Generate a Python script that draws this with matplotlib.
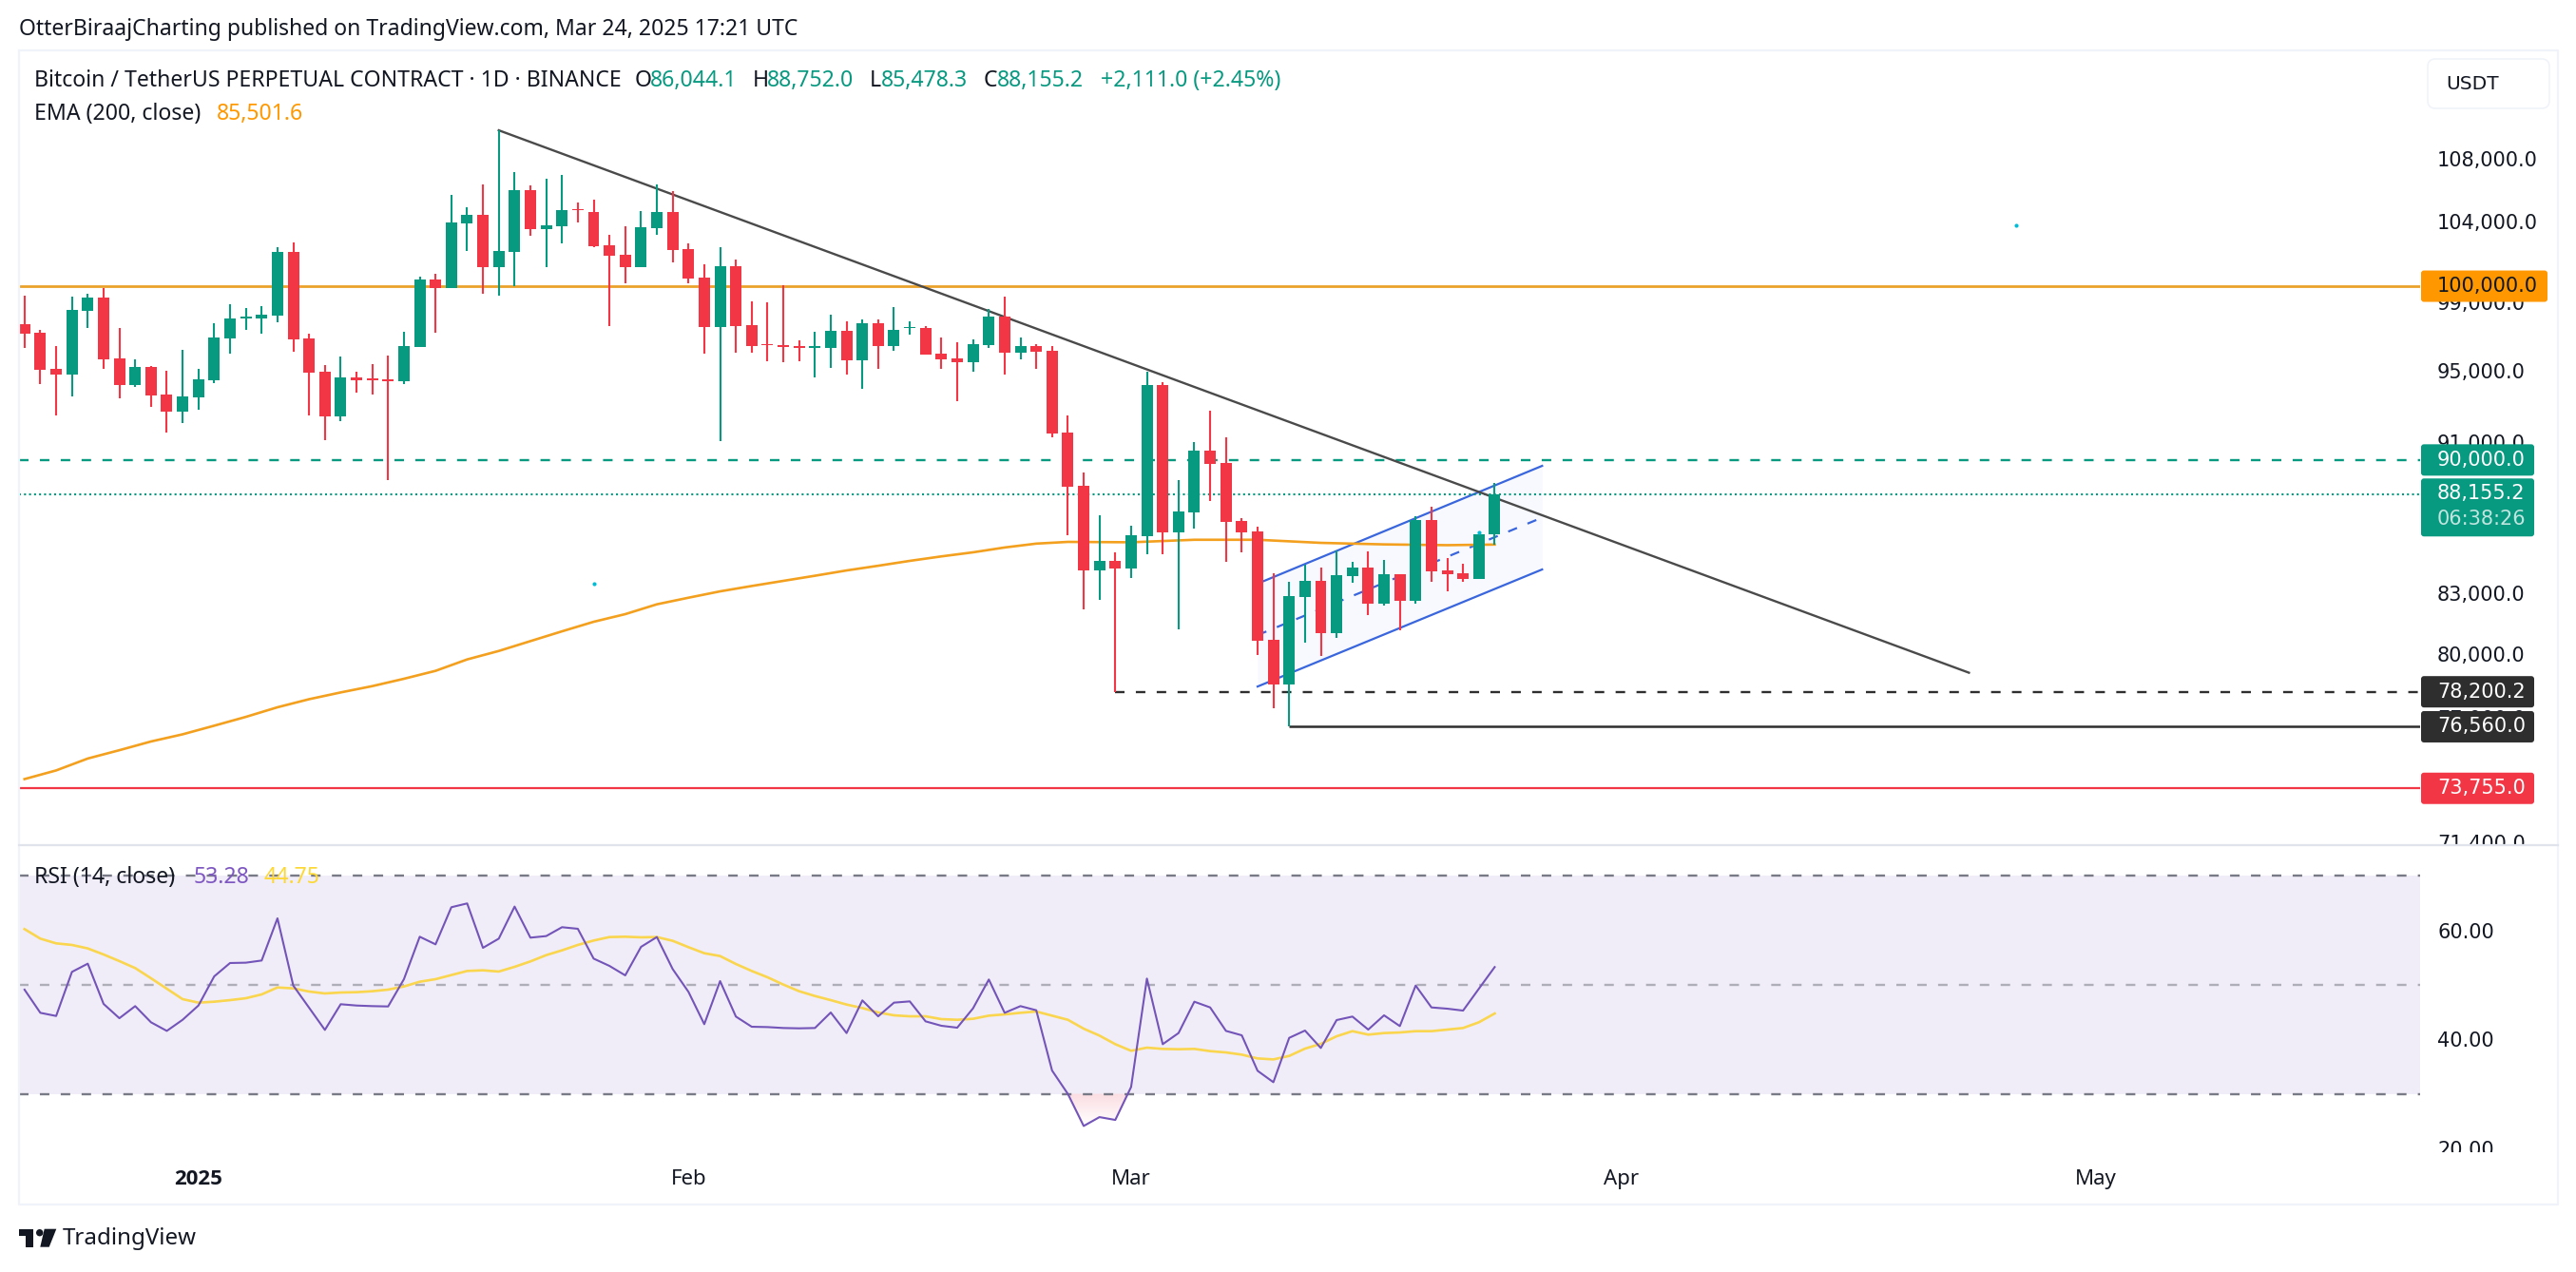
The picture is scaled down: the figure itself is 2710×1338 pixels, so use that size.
import numpy as np
import pandas as pd
import matplotlib
matplotlib.use("Agg")
import matplotlib.pyplot as plt
from matplotlib.patches import Rectangle, FancyBboxPatch, Polygon, Circle
from matplotlib.colors import LinearSegmentedColormap
import matplotlib.dates as mdates

plt.rcParams['lines.scale_dashes'] = False
plt.rcParams['font.family'] = ['Noto Sans', 'DejaVu Sans']

W, H = 2710, 1338
GREEN, RED = '#089981', '#F23645'

start_date = '2024-12-21'
opens = [97720,97220,95110,94800,98530,99310,95700,94200,95220,93650,92690,93500,94450,96900,98080,98080,98230,102100,96880,94950,
         92430,94620,94560,94510,94400,96400,100410,99900,103880,104420,101160,102100,105990,103520,103700,104790,104600,102510,101920,101160,
         103580,104600,102280,100530,97560,101220,97670,96550,96470,96420,96320,96320,97330,95610,97780,96430,97500,97500,95990,95720,
         95500,96490,98170,96050,96430,96160,91510,88600,84170,84660,84270,85930,94180,86130,87180,90510,89840,86730,86190,80700,
         78550,82820,83640,81030,83880,84320,82490,83980,82630,86780,84170,84020,83730,86044.1]
closes = [97180,95080,94780,98570,99310,95680,94200,95220,93610,92690,93540,94510,96940,98060,98170,98280,102100,96850,94910,92430,
          94620,94470,94470,94420,96430,100410,99900,103940,104420,101160,102160,105990,103520,103760,104730,104700,102450,101860,101160,103640,
          104600,102210,100470,97560,101220,97610,96430,96470,96380,96340,96420,97330,95610,97780,96430,97390,97560,95940,95660,95500,
          96550,98170,96050,96430,96100,91460,88550,84170,84660,84270,85980,94180,86130,87230,90510,89790,86690,86130,80660,78550,
          82870,83640,81030,83930,84320,82490,83980,82630,86780,84120,83980,83730,86040,88155.2]
highs = [99430,97370,96430,99370,99540,99900,97480,95650,95280,95000,96190,95090,97780,98910,98690,98800,102400,102690,97160,95330,
         95830,94950,95390,95880,97280,100580,100755,105690,104900,106360,109910,107170,106300,106730,106980,105210,105390,103170,103700,104670,
         106360,105930,102630,101340,102390,101630,99090,99030,100060,96770,97280,98290,97890,98000,98000,98720,97890,97610,96940,96660,
         96820,98630,99370,96940,96550,96430,92460,89320,87030,85100,86490,94950,94350,88910,90980,92730,91250,86890,86440,84030,
         83590,84460,84320,85200,84610,85150,84710,83980,86980,87480,84810,84510,86180,88752.0]
lows = [96340,94220,92450,93520,97520,95130,93450,94100,92960,91490,92020,92800,94310,96010,97410,97180,97860,96120,92480,91070,
        92160,93770,93660,88910,94260,96400,97220,99900,102160,99540,99430,100000,103110,101160,102630,103940,102390,97630,100170,101160,
        103170,101450,100170,95990,91030,96040,96040,95550,95500,95550,94620,95170,94780,93970,95110,96160,97110,95940,95110,93270,
        94950,96320,94780,95660,95110,91250,85980,82210,82680,78200,83790,85000,85000,81230,86330,87790,84610,85100,79970,77430,
        76560,80570,79920,80800,83540,81920,82390,81160,82490,83590,83110,83590,83730,85478.3]

rsi = [49.13,44.87,44.29,52.39,53.90,46.51,43.88,46.10,43.13,41.55,43.59,46.21,51.57,54.02,54.08,54.48,62.23,49.88,45.81,41.73,
       46.45,46.21,46.10,46.04,51.05,58.85,57.45,64.27,64.97,56.81,58.50,64.39,58.68,58.97,60.60,60.31,54.83,53.49,51.75,56.99,
       58.79,52.91,48.72,42.78,50.70,44.18,42.31,42.25,42.08,42.02,42.08,44.93,41.15,47.15,44.23,46.74,46.97,43.30,42.49,42.14,
       45.69,50.99,44.87,46.10,45.34,34.27,29.97,24.08,25.71,25.19,31.25,51.16,39.11,41.15,46.91,45.86,41.55,40.74,34.22,32.12,
       40.27,41.61,38.41,43.54,44.18,41.79,44.41,42.43,49.88,45.86,45.63,45.28,49.30,53.28]
rsi_ma = [60.25,58.50,57.63,57.34,56.70,55.59,54.37,53.09,51.22,49.30,47.38,46.74,46.91,47.20,47.55,48.25,49.53,49.36,48.78,48.43,
          48.60,48.66,48.84,49.13,49.71,50.58,51.05,51.81,52.56,52.68,52.45,53.32,54.31,55.47,56.35,57.34,58.15,58.79,58.85,58.74,
          58.79,58.10,56.93,55.82,55.30,53.84,52.56,51.40,50.06,48.84,47.96,47.20,46.39,45.75,44.93,44.41,44.23,44.23,43.71,43.59,
          43.77,44.35,44.58,44.87,45.11,44.35,43.59,41.96,40.68,39.11,37.89,38.47,38.24,38.18,38.24,37.83,37.59,37.19,36.49,36.31,
          36.95,38.29,39.17,40.56,41.50,40.86,41.15,41.26,41.50,41.50,41.79,42.08,43.13,44.75]

ema_bars = [0,2,4,6,8,10,12,14,16,18,20,22,24,26,28,30,32,34,36,38,40,42,44,46,48,50,52,54,56,58,60,62,64,66,70,74,78,82,86,90,93]
ema_vals = [74170,74560,75100,75480,75880,76210,76610,77020,77470,77850,78170,78470,78820,79200,79750,80160,80640,81120,81590,81970,
            82460,82790,83110,83380,83640,83900,84170,84410,84660,84890,85100,85350,85550,85640,85620,85750,85750,85590,85510,85470,85501.6]

price_ticks = [108000,104000,99000,95000,91000,83000,80000,77000,71400]
price_tick_labels = ['108,000.0','104,000.0','99,000.0','95,000.0','91,000.0','83,000.0','80,000.0','77,000.0','71,400.0']
rsi_ticks = [60,40,20]
rsi_tick_labels = ['60.00','40.00','20.00']
month_dates = ['2025-01-01','2025-02-01','2025-03-01','2025-04-01','2025-05-01']
month_labels = ['2025','Feb','Mar','Apr','May']

trend_dates = ['2025-01-20','2025-04-23']
trend_vals = [109910,79110]
chan_dates = ['2025-03-09','2025-03-27']
chan_upper = [83500,89680]
chan_mid = [80935,86910]
chan_lower = [78450,84220]
marker_dates = ['2025-01-26','2025-03-23','2025-04-26']
marker_vals = [83500,86130,103760]
level_orange, level_tp, level_last, level_dash, level_solid, level_red = 100000,90000,88155.2,78200.2,76560,73755
dash_from, solid_from = '2025-02-28','2025-03-11'

dates = pd.date_range(start_date, periods=len(opens), freq='D')
xs = mdates.date2num(dates)
num = lambda d: mdates.date2num(pd.Timestamp(d))
O, Hi, Lo, C = map(np.array, (opens, highs, lows, closes))

fig = plt.figure(figsize=(W/100, H/100), dpi=100, facecolor='white')
def axpx(l, t, r, b):
    return fig.add_axes([l/W, 1-b/H, (r-l)/W, (b-t)/H])

xlim = (xs[0]-0.349, xs[0]+151.54)
ax = axpx(20, 54, 2546, 889)
ax.set_yscale('log')
ax.set_xlim(*xlim)
ax.set_ylim(71258, 115300)
ax.set_facecolor('white')

# channel
cx = [num(d) for d in chan_dates]
ax.fill_between(cx, chan_lower, chan_upper, color='#2962FF', alpha=0.035, lw=0, zorder=1)
ax.plot(cx, chan_upper, color='#3A66DD', lw=1.6, zorder=2)
ax.plot(cx, chan_lower, color='#3A66DD', lw=1.6, zorder=2)
ax.plot(cx, chan_mid, color='#3A66DD', lw=1.6, ls=(0, (7.2, 8.6)), zorder=2)

# levels
ax.axhline(level_orange, color='#EBA22B', lw=2.0, zorder=2)
ax.axhline(level_tp, color=GREEN, lw=1.7, ls=(0, (7.2, 8.6)), zorder=2)
ax.axhline(level_last, color=GREEN, lw=1.5, ls=(0, (1.5, 2.3)), zorder=2)
ax.hlines(level_dash, num(dash_from), xlim[1], color='#2E2E2E', lw=1.7, ls=(0, (7.2, 8.6)), zorder=2)
ax.hlines(level_solid, num(solid_from), xlim[1], color='#2E2E2E', lw=1.8, zorder=2)
ax.axhline(level_red, color=RED, lw=1.6, zorder=2)

# trendline, EMA
ax.plot([num(d) for d in trend_dates], trend_vals, color='#4A4A4A', lw=1.7, zorder=2)
ax.plot(xs[ema_bars], ema_vals, color='#F3A01F', lw=1.9, zorder=3)

# candles
up = C >= O
cols = np.where(up, GREEN, RED)
ax.vlines(xs, Lo, Hi, colors=cols, lw=1.5, zorder=5)
ax.bar(xs, np.maximum(np.abs(C-O), 60), bottom=np.minimum(O, C), width=0.72, color=cols, lw=0, zorder=6)
ax.scatter([num(d) for d in marker_dates], marker_vals, s=9, color='#00BCD4', lw=0, zorder=7)

ax.yaxis.tick_right()
ax.set_yticks(price_ticks)
ax.set_yticklabels(price_tick_labels, fontsize=15, family='DejaVu Sans', color='#131722')
ax.minorticks_off()
ax.tick_params(axis='y', length=0, pad=13)
ax.set_xticks([])
for s in ax.spines.values():
    s.set_visible(False)

# RSI
ar = axpx(20, 890, 2546, 1212)
ar.set_xlim(*xlim)
ar.set_ylim(19.26, 75.5)
ar.axhspan(30, 70, color='#7E57C2', alpha=0.10, lw=0, zorder=1)
ar.axhline(70, color='#787B86', lw=1.7, ls=(0, (7.2, 8.6)), zorder=2)
ar.axhline(50, color='#787B86', alpha=0.55, lw=1.7, ls=(0, (7.2, 8.6)), zorder=2)
ar.axhline(30, color='#787B86', lw=1.7, ls=(0, (7.2, 8.6)), zorder=2)

# oversold gradient, clipped to the region between the RSI line and the 30 level
r = np.array(rsi)
mask = r < 30
idx = np.where(mask)[0]
px0 = xs[idx[0]-1] + (rsi[idx[0]-1]-30)/(rsi[idx[0]-1]-rsi[idx[0]])
px1 = xs[idx[-1]] + (30-rsi[idx[-1]])/(rsi[idx[-1]+1]-rsi[idx[-1]])
poly = Polygon(np.column_stack([[px0]+list(xs[idx])+[px1], [30]+list(r[idx])+[30]]), closed=True, transform=ar.transData, fc='none', ec='none')
ar.add_patch(poly)
cm = LinearSegmentedColormap.from_list('ov', ['#FFFFFF', '#FBDDE2'])
im = ar.imshow(np.linspace(0, 1, 64).reshape(-1, 1), extent=(px0, px1, 30, float(r.min())), origin='upper', aspect='auto', cmap=cm, zorder=1.5)
im.set_clip_path(poly)
ar.set_xlim(*xlim)
ar.set_ylim(19.26, 75.5)

ar.plot(xs, rsi_ma, color='#FAD54E', lw=1.9, zorder=3)
ar.plot(xs, rsi, color='#7354B8', lw=1.5, zorder=4)
ar.yaxis.tick_right()
ar.set_yticks(rsi_ticks)
ar.set_yticklabels(rsi_tick_labels, fontsize=15, family='DejaVu Sans', color='#131722')
ar.tick_params(axis='y', length=0, pad=13)
ar.set_xticks([num(d) for d in month_dates])
ar.set_xticklabels(month_labels, fontsize=16, color='#131722')
ar.tick_params(axis='x', length=0, pad=13)
yr_label = ar.get_xticklabels()[0]
yr_label.set_family('Open Sans')
yr_label.set_fontweight('bold')
for s in ar.spines.values():
    s.set_visible(False)

# overlay in picture pixels: frame, masks, badges, legend
ov = fig.add_axes([0, 0, 1, 1], zorder=10)
ov.set_xlim(0, W)
ov.set_ylim(H, 0)
ov.axis('off')
ov.patch.set_alpha(0)
ypx = lambda p: H - ax.transData.transform((xlim[0], p))[1]

FR = '#F0F3FA'
ov.add_patch(Rectangle((2550, 889), 140, 18, fc='white', ec='none'))
ov.add_patch(Rectangle((2550, 1212), 140, 18, fc='white', ec='none'))
ov.plot([20, 2691, 2691, 20, 20], [53, 53, 1267, 1267, 53], color=FR, lw=1.6)
ov.plot([20, 2691], [889, 889], color='#E0E3EB', lw=1.6)

def badge(y0, y1, x1, col):
    ov.add_patch(FancyBboxPatch((2547+2, y0+2), x1-2547-4, y1-y0-4, boxstyle='round,pad=2,rounding_size=3', fc=col, ec='none'))

def btxt(y, s, col='white', alpha=1):
    ov.text(2564, y, s, color=col, alpha=alpha, fontsize=15, family='DejaVu Sans', va='center', ha='left')

for lvl, s, col, tc, x1 in [(level_orange, '100,000.0', '#FF9800', '#131722', 2680),
                            (level_tp, '90,000.0', GREEN, 'white', 2666),
                            (level_dash, '78,200.2', '#2E2E2E', 'white', 2666),
                            (level_solid, '76,560.0', '#2E2E2E', 'white', 2666),
                            (level_red, '73,755.0', RED, 'white', 2666)]:
    yy = ypx(lvl)
    badge(yy-16.5, yy+16.5, x1, col)
    btxt(yy, s, tc)
yy = ypx(level_last)
badge(yy-16.5, yy+44.5, 2666, GREEN)
btxt(yy-1, '88,155.2')
btxt(yy+26.5, '06:38:26', alpha=0.75)

ov.add_patch(FancyBboxPatch((2558, 66), 120, 44, boxstyle='round,pad=4,rounding_size=8', fc='white', ec=FR, lw=1.2))
ov.text(2573, 88, 'USDT', fontsize=14.5, family='DejaVu Sans', color='#131722', va='center', ha='left')

TXT = '#131722'
def lab(x, y, s, col=TXT, size=16.6, **kw):
    ov.text(x, y, s, color=col, fontsize=size, va='center', ha='left', **kw)

lab(20, 31, 'OtterBiraajCharting published on TradingView.com, Mar 24, 2025 17:21 UTC', size=16.5)
lab(36, 85, 'Bitcoin / TetherUS PERPETUAL CONTRACT · 1D · BINANCE')
for x, s in [(668, 'O'), (792, 'H'), (915, 'L'), (1035, 'C')]:
    lab(x, 85, s)
for x, s in [(684, '86,044.1'), (807, '88,752.0'), (927, '85,478.3'), (1049, '88,155.2'), (1158, '+2,111.0 (+2.45%)')]:
    lab(x, 85, s, GREEN)
lab(36, 120, 'EMA (200, close)')
lab(228, 120, '85,501.6', '#FF9800')
lab(36, 923, 'RSI (14, close)')
lab(204, 923, '53.28', '#7E57C2')
lab(277, 923, '44.75', '#FDD835')

# logo
LOGO = '#131722'
ov.add_patch(Polygon([(20, 1292.7), (35, 1292.7), (35, 1311.7), (27.3, 1311.7), (27.3, 1300), (20, 1300)], fc=LOGO, ec='none'))
ov.add_patch(Circle((41.7, 1296.7), 3.7, fc=LOGO, ec='none'))
ov.add_patch(Polygon([(46.7, 1292.7), (59.3, 1292.7), (51.7, 1311.7), (42.3, 1311.7)], fc=LOGO, ec='none'))
lab(66, 1303, 'TradingView', LOGO, size=17.3)

fig.savefig('out.png', dpi=100)
